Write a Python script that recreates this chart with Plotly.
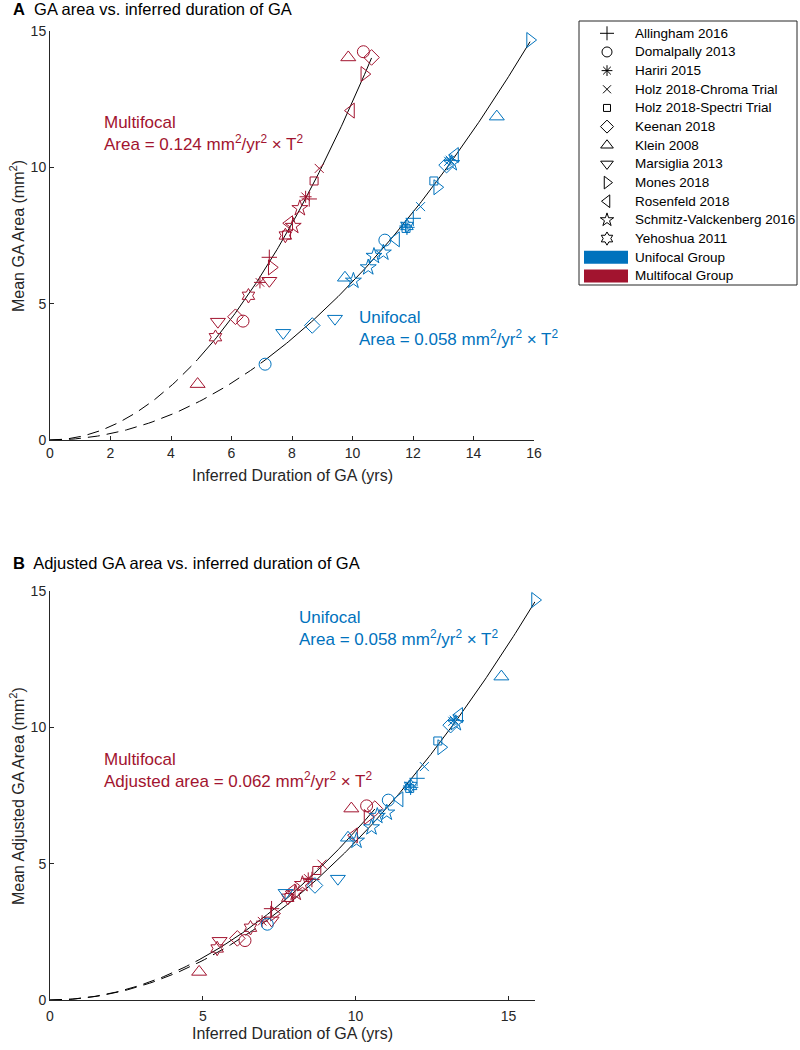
import numpy as np
import plotly.graph_objects as go

# ---------------- data ----------------
studies = ["Allingham 2016", "Domalpally 2013", "Hariri 2015", "Holz 2018-Chroma Trial",
           "Holz 2018-Spectri Trial", "Keenan 2018", "Klein 2008", "Marsiglia 2013",
           "Mones 2018", "Rosenfeld 2018", "Schmitz-Valckenberg 2016", "Yehoshua 2011"]
groups = ["Unifocal Group", "Multifocal Group"]

# Unifocal group (same values in panels A and B)
uni_x = [[11.80, 12.01], [7.11, 11.07], [11.75, 13.22], [12.25, 13.18],
         [11.77, 12.69], [8.67, 13.11], [9.75, 14.77], [7.71, 9.42],
         [12.80, 15.87], [11.44, 13.39], [10.03, 10.52, 10.71, 11.02, 13.28], [11.80]]
uni_y = [[7.80, 8.13], [2.78, 7.33], [7.85, 10.27], [8.56, 10.22],
         [7.76, 9.50], [4.20, 10.08], [5.95, 11.86], [3.93, 4.45],
         [9.27, 14.67], [7.36, 10.45], [5.84, 6.33, 6.75, 6.87, 10.15], [7.85]]

# Multifocal group
multi_x = [[7.25, 8.57], [6.38, 10.36], [6.94, 8.45], [8.90],
           [7.82, 8.73], [6.13, 10.63], [4.88, 9.86], [5.55, 7.25],
           [7.33, 10.39], [7.91, 9.95], [8.04, 8.26], [5.47, 6.56, 7.78]]
multi_y = [[6.70, 8.84], [4.36, 14.24], [5.78, 8.92], [9.96],
           [7.52, 9.50], [4.52, 14.03], [2.05, 14.03], [4.34, 5.84],
           [6.33, 13.42], [7.95, 12.08], [7.85, 8.50], [3.77, 5.29, 7.50]]
# Multifocal adjusted area (panel B)
multi_adj_y = [[3.35, 4.42], [2.18, 7.12], [2.89, 4.46], [4.98],
               [3.76, 4.75], [2.26, 7.02], [1.03, 7.02], [2.17, 2.92],
               [3.17, 6.71], [3.98, 6.04], [3.93, 4.25], [1.89, 2.65, 3.75]]

# fit coefficients (mm^2/yr^2)
coef_uni = 0.058
coef_multi = 0.124
coef_multi_adj = 0.062

# ---------------- style ----------------
BLUE = "#0072BD"
RED = "#A2142F"
AX = "#262626"
FONT = "Liberation Sans, Arial, Helvetica, sans-serif"

symbols = ["cross-thin-open", "circle-open", "asterisk-open", "x-thin-open", "square-open",
           "diamond-open", "triangle-up-open", "triangle-down-open", "triangle-right-open",
           "triangle-left-open", "star-open", "hexagram-open"]
sizes = [11, 12, 10, 9, 8, 12, 13, 13, 13, 13, 12, 11]
leg_sizes = [10, 10, 9, 8, 7, 10, 11, 11, 11, 11, 10, 10]

W, H = 800, 1050
ML, MR, MT, MB = 50, 0, 20, 50
PW, PH = W - ML - MR, H - MT - MB


def px(x):
    return (x - ML) / PW


def py(y):
    return (H - MB - y) / PH


fig = go.Figure()


def add_points(xs, ys, color, xa, ya):
    for i in range(len(studies)):
        fig.add_trace(go.Scatter(
            x=xs[i], y=ys[i], mode="markers", xaxis=xa, yaxis=ya, name=studies[i],
            marker=dict(symbol=symbols[i], size=sizes[i], color=color,
                        line=dict(color=color, width=1)),
            showlegend=False, cliponaxis=False, hoverinfo="x+y+name"))


def add_fit(coef, xs, xa, ya):
    flat = [v for s in xs for v in s]
    tmin, tmax = min(flat), max(flat)
    td = np.linspace(0, tmin, 60)
    ts = np.linspace(tmin, tmax, 150)
    fig.add_trace(go.Scatter(x=td, y=coef * td ** 2, mode="lines", xaxis=xa, yaxis=ya,
                             line=dict(color="black", width=1, dash="12px,7px"),
                             showlegend=False, hoverinfo="skip"))
    fig.add_trace(go.Scatter(x=ts, y=coef * ts ** 2, mode="lines", xaxis=xa, yaxis=ya,
                             line=dict(color="black", width=1),
                             showlegend=False, hoverinfo="skip"))


# Panel A
add_fit(coef_multi, multi_x, "x", "y")
add_fit(coef_uni, uni_x, "x", "y")
add_points(multi_x, multi_y, RED, "x", "y")
add_points(uni_x, uni_y, BLUE, "x", "y")

# Panel B
add_fit(coef_multi_adj, multi_x, "x2", "y2")
add_fit(coef_uni, uni_x, "x2", "y2")
add_points(multi_x, multi_adj_y, RED, "x2", "y2")
add_points(uni_x, uni_y, BLUE, "x2", "y2")

# ---------------- legend (drawn on its own hidden axes) ----------------
LEG_L, LEG_R, LEG_T, LEG_B = 579, 797, 21, 285
ROW0, ROWH = 33.3, 18.66
MARK_X, TEXT_X = 607, 633

for i, s in enumerate(studies):
    fig.add_trace(go.Scatter(
        x=[MARK_X], y=[ROW0 + ROWH * i], mode="markers", xaxis="x3", yaxis="y3",
        marker=dict(symbol=symbols[i], size=leg_sizes[i], color="black",
                    line=dict(color="black", width=1)),
        showlegend=False, cliponaxis=False, hoverinfo="skip"))

shapes = [dict(type="rect", xref="paper", yref="paper",
               x0=px(LEG_L), x1=px(LEG_R), y0=py(LEG_B), y1=py(LEG_T),
               line=dict(color=AX, width=1), fillcolor="rgba(0,0,0,0)", layer="above")]
for j, (g, c) in enumerate(zip(groups, [BLUE, RED])):
    yc = ROW0 + ROWH * (len(studies) + j)
    shapes.append(dict(type="rect", xref="paper", yref="paper",
                       x0=px(584), x1=px(628), y0=py(yc + 6.5), y1=py(yc - 6.5),
                       line=dict(width=0), fillcolor=c))

axis_common = dict(showline=True, linecolor=AX, linewidth=1, ticks="inside", ticklen=4,
                   tickcolor=AX, showgrid=False, zeroline=False, automargin=False,
                   tickfont=dict(family=FONT, size=14, color=AX))

fig.update_layout(
    width=W, height=H,
    margin=dict(l=ML, r=MR, t=MT, b=MB, autoexpand=False),
    paper_bgcolor="white", plot_bgcolor="white",
    font=dict(family=FONT, color=AX),
    showlegend=False,
    xaxis=dict(axis_common, domain=[0, (534 - ML) / PW], range=[0, 16],
               tickvals=[0, 2, 4, 6, 8, 10, 12, 14, 16], anchor="y"),
    yaxis=dict(axis_common, domain=[py(440), py(31)], range=[0, 15], tickvals=[0, 5, 10, 15],
               anchor="x"),
    xaxis2=dict(axis_common, domain=[0, (535 - ML) / PW], range=[0, 15.87],
                tickvals=[0, 5, 10, 15], anchor="y2", ticklabelstandoff=3),
    yaxis2=dict(axis_common, domain=[0, py(591)], range=[0, 15], tickvals=[0, 5, 10, 15],
                anchor="x2"),
    xaxis3=dict(domain=[px(LEG_L), px(LEG_R)], range=[LEG_L, LEG_R], visible=False,
                anchor="y3", fixedrange=True),
    yaxis3=dict(domain=[py(LEG_B), py(LEG_T)], range=[LEG_B, LEG_T], visible=False,
                anchor="x3", fixedrange=True),
    shapes=shapes,
)

ann = []


def text(x, y, t, size=14, color=AX, angle=0, xanchor="left", yanchor="middle"):
    ann.append(dict(x=px(x), y=py(y), xref="paper", yref="paper", text=t, showarrow=False,
                    xanchor=xanchor, yanchor=yanchor, textangle=angle, align="left",
                    font=dict(family=FONT, size=size, color=color)))


sq = "<sup>2</sup>"
text(11, 9, "<b>A</b>  GA area vs. inferred duration of GA", size=16.5, color="black")
text(11, 563, "<b>B</b>  Adjusted GA area vs. inferred duration of GA", size=16.5, color="black")
text(17, 236, "Mean GA Area (mm" + sq + ")", size=16, angle=-90, xanchor="center")
text(17, 796, "Mean Adjusted GA Area (mm" + sq + ")", size=16, angle=-90, xanchor="center")
text(292, 475, "Inferred Duration of GA (yrs)", size=16, xanchor="center")
text(292, 1033, "Inferred Duration of GA (yrs)", size=16, xanchor="center")
text(102, 133, "Multifocal<br>Area = 0.124 mm" + sq + "/yr" + sq + " × T" + sq, size=17, color=RED)
text(357, 328, "Unifocal<br>Area = 0.058 mm" + sq + "/yr" + sq + " × T" + sq, size=17, color=BLUE)
text(297, 628, "Unifocal<br>Area = 0.058 mm" + sq + "/yr" + sq + " × T" + sq, size=17, color=BLUE)
text(102, 770, "Multifocal<br>Adjusted area = 0.062 mm" + sq + "/yr" + sq + " × T" + sq, size=17, color=RED)
for k, lab in enumerate(studies + groups):
    text(TEXT_X, ROW0 + ROWH * k, lab, size=13.5, color="black")
fig.update_layout(annotations=ann)

fig.write_html("out.html", config={"displayModeBar": False},
               post_script="document.body.style.margin='0';")
